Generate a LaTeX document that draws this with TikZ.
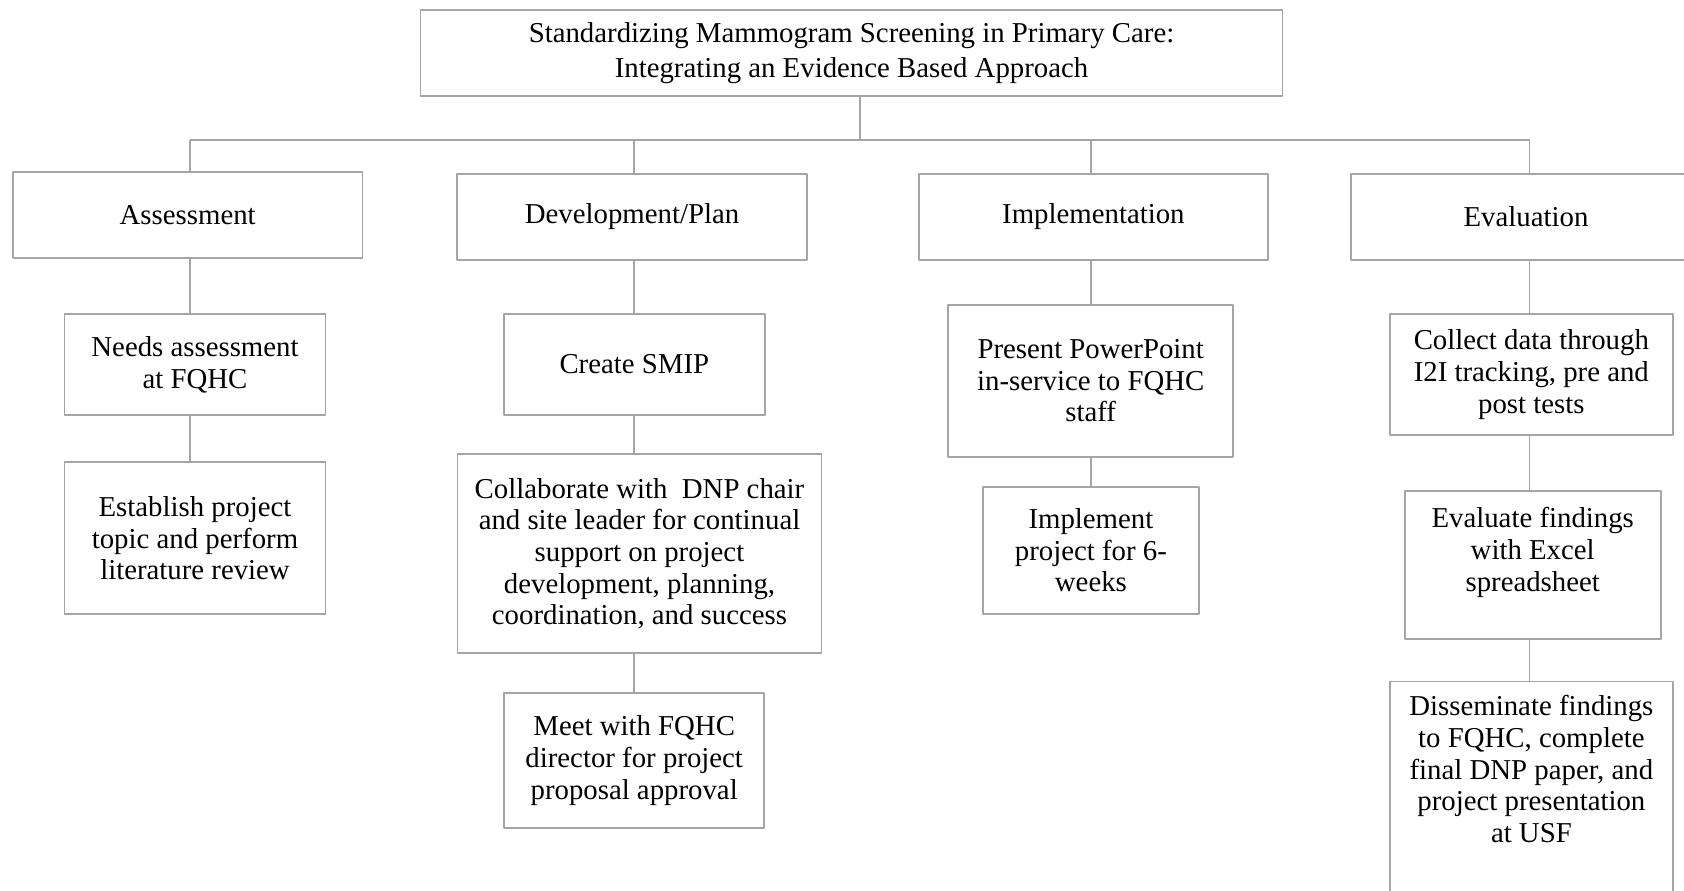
\documentclass[tikz,border=0pt]{standalone}
\usepackage{fontspec}
\setmainfont{Liberation Serif}
\definecolor{boxgray}{RGB}{165,165,165}
\begin{document}
\begin{tikzpicture}[line join=bevel,
  box/.style={draw=boxgray,line width=0.8pt,align=center,inner sep=4pt,
    font=\fontsize{14.4pt}{15.85pt}\selectfont},
  link/.style={draw=boxgray,line width=0.8pt},
]
%%
\useasboundingbox (0pt,0pt) rectangle (842pt,-445pt);
\clip (0pt,0pt) rectangle (842pt,-445pt);
\node (title) at (425.75pt,-26.5pt) [box,minimum width=431pt,minimum height=43pt,font=\fontsize{14.4pt}{17.3pt}\selectfont] {Standardizing Mammogram Screening in Primary Care:\\Integrating an Evidence Based Approach};
  \coordinate (hub) at (430pt,-70pt);
  \coordinate (col_1) at (95pt,-70pt);
  \coordinate (col_2) at (317pt,-70pt);
  \coordinate (col_3) at (545.5pt,-70pt);
  \coordinate (col_4) at (764.75pt,-70pt);
  \node (assess) at (93.85pt,-107.5pt) [box,minimum width=174.8pt,minimum height=43pt] {Assessment};
  \node (devel) at (316pt,-108.5pt) [box,minimum width=174.8pt,minimum height=43pt] {Development/Plan};
  \node (impl) at (546.7pt,-108.5pt) [box,minimum width=174.5pt,minimum height=43pt] {Implementation};
  \node (evalu) at (763pt,-108.5pt) [box,minimum width=175pt,minimum height=43pt] {Evaluation};
  \node (needs) at (97.5pt,-182.35pt) [box,minimum width=130.5pt,minimum height=50.5pt] {Needs assessment\\at FQHC};
  \node (establish) at (97.5pt,-269.1pt) [box,minimum width=130.5pt,minimum height=76pt] {Establish project\\topic and perform\\literature review};
  \node (smip) at (317.15pt,-182.25pt) [box,minimum width=130.5pt,minimum height=50.5pt] {Create SMIP};
  \node (collab) at (319.75pt,-276.85pt) [box,minimum width=182pt,minimum height=99.5pt] {Collaborate with\ \ DNP chair\\and site leader for continual\\support on project\\development, planning,\\coordination, and success};
  \node (meet) at (317.1pt,-380.35pt) [box,minimum width=130pt,minimum height=67.5pt] {Meet with FQHC\\director for project\\proposal approval};
  \node (present) at (545.35pt,-190.35pt) [box,minimum width=142.5pt,minimum height=76pt] {Present PowerPoint\\in-service to FQHC\\staff};
  \node (implement) at (545.45pt,-275.2pt) [box,minimum width=108pt,minimum height=63.5pt] {Implement\\project for 6-\\weeks};
  \node (collect) at (765.65pt,-187.35pt) [box,minimum width=141.5pt,minimum height=60.5pt] {Collect data through\\I2I tracking, pre and\\post tests};
  \node (findings) at (766.35pt,-282.5pt) [box,minimum width=128pt,minimum height=74pt] {Evaluate findings\\with Excel\\spreadsheet\\~};
  \node (dissem) at (765.7pt,-340.35pt) [box,anchor=north,inner ysep=7pt,minimum width=141.5pt] {Disseminate findings\\to FQHC, complete\\final DNP paper, and\\project presentation\\at USF\\[60pt]~};
%
  \draw [link] (title.south -| hub) -- (hub);
  \draw [link] (col_1) -- (col_4);
  \draw [link] (col_1) -- (assess.north -| col_1);
  \draw [link] (col_2) -- (devel.north -| col_2);
  \draw [link] (col_3) -- (impl.north -| col_3);
  \draw [link] (col_4) -- (evalu.north -| col_4);
  \draw [link] (assess.south -| col_1) -- (needs.north -| col_1);
  \draw [link] (needs.south -| col_1) -- (establish.north -| col_1);
  \draw [link] (devel.south -| col_2) -- (smip.north -| col_2);
  \draw [link] (smip.south -| col_2) -- (collab.north -| col_2);
  \draw [link] (collab.south -| col_2) -- (meet.north -| col_2);
  \draw [link] (impl.south -| col_3) -- (present.north -| col_3);
  \draw [link] (present.south -| col_3) -- (implement.north -| col_3);
  \draw [link] (evalu.south -| col_4) -- (collect.north -| col_4);
  \draw [link] (collect.south -| col_4) -- (findings.north -| col_4);
  \draw [link] (findings.south -| col_4) -- (dissem.north -| col_4);
%
\end{tikzpicture}
\end{document}
